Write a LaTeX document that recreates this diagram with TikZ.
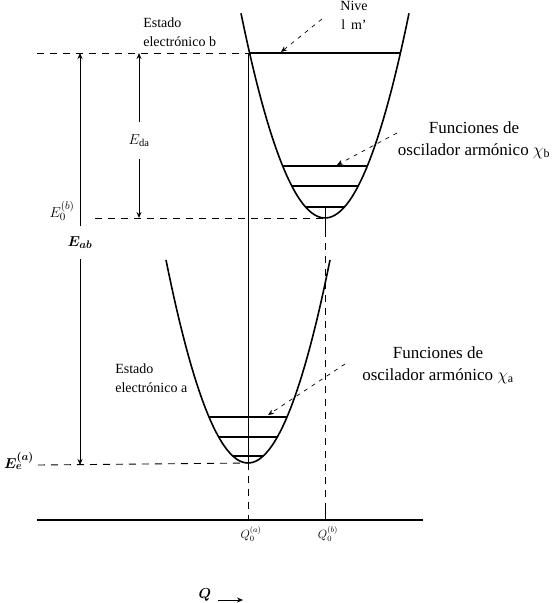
\documentclass[tikz,border=0pt]{standalone}
\usepackage{fontspec}
\setmainfont{Liberation Serif}
\usepackage{bm}
\usetikzlibrary{arrows.meta}
\tikzset{
  level/.style={line width=1.1pt},
  well/.style={line width=1.6pt},
  guide/.style={dashed,dash pattern=on 7pt off 6pt,line width=.9pt},
  leader/.style={dashed,dash pattern=on 4pt off 5pt,->,line width=.7pt},
  statetext/.style={align=left,font=\fontsize{14}{19}\selectfont,inner sep=0pt},
  functext/.style={align=center,font=\fontsize{17}{22}\selectfont,inner sep=0pt},
  biglabel/.style={font=\fontsize{15}{17}\selectfont,inner sep=1pt},
  axlabel/.style={font=\fontsize{12}{14}\selectfont,inner sep=1pt},
}
\begin{document}
\begin{tikzpicture}[x=1pt,y=-1pt,>={Stealth[length=6pt,width=5pt]},line width=.6pt]
  \useasboundingbox (0,0) rectangle (557,603);
  % minima of the two wells
  \coordinate (bmin) at (325,218);
  \coordinate (amin) at (248,463);
  % upper well b
  \draw[well] plot[domain=-84:84,samples=60] ({325+\x},{218-0.029*\x*\x});
  \foreach \d in {165,52,32,11}
    \draw[level] ({325-sqrt(\d/0.029)},{218-\d}) -- ({325+sqrt(\d/0.029)},{218-\d});
  % lower well a
  \draw[well] plot[domain=-82:82,samples=60] ({248+\x},{463-0.0302*\x*\x});
  \foreach \d in {46,26,7}
    \draw[level] ({248-sqrt(\d/0.0302)},{463-\d}) -- ({248+sqrt(\d/0.0302)},{463-\d});
  % energy levels
  \coordinate (tl) at (37,53);
  \coordinate (tr) at (249,53);
  \coordinate (ml) at (95,218);
  \coordinate (al) at (38,465);
  \draw[guide] (tl) -- (tr);
  \draw[guide] (ml) -- (bmin);
  \draw[guide] (al) -- (amin);
  % vertical guides
  \draw (248,53) -- (amin);
  \draw[guide] (amin) -- (248,520);
  \draw (325,207) -- (325,230);
  \draw[guide] (325,230) -- (325,505);
  \draw (325,505) -- (325,520);
  % axis
  \coordinate (ax0) at (37,520);
  \coordinate (ax1) at (423,520);
  \draw[line width=1.1pt] (ax0) -- (ax1);
  % energy gaps
  \coordinate (abt) at (80,53);
  \coordinate (abb) at (80,465);
  \coordinate (dat) at (139,53);
  \coordinate (dab) at (139,218);
  \draw[<->] (abt) -- node[biglabel,pos=.46,fill=white,inner ysep=10pt] (Eab) {$\bm{E_{ab}}$} (abb);
  \draw[<->,line width=1pt] (dat) -- node[biglabel,pos=.53,fill=white,inner ysep=12pt] (Eda) {$E_{\mathrm{da}}$} (dab);
  % labels
  \node[biglabel] (E0b) at (62,211) {$E_0^{(b)}$};
  \node[biglabel,inner sep=0pt] (Eea) at (19,461) {$\bm{E_e^{(a)}}$};
  \node[axlabel] (Q0a) at (251,534) {$Q_0^{(a)}$};
  \node[axlabel] (Q0b) at (328,534) {$Q_0^{(b)}$};
  \node[biglabel] (Q) at (205,595) {$\bm{Q}$};
  \coordinate (qa) at (218,600);
  \coordinate (qb) at (243,600);
  \draw[->] (qa) -- (qb);
  % state names
  \node[statetext,anchor=base west] (stb) at (143,46) {Estado\\electrónico b};
  \node[statetext,anchor=base west] (sta) at (115,392) {Estado\\electrónico a};
  \node[statetext,align=center,anchor=base] (niv) at (354,29) {Nive\\l\, m'};
  % oscillator functions
  \node[functext] (fb) at (474,140) {Funciones de\\oscilador armónico $\chi_{\mathrm b}$};
  \node[functext] (fa) at (438,365) {Funciones de\\oscilador armónico $\chi_{\mathrm a}$};
  % leaders
  \coordinate (nv0) at (322,19);
  \coordinate (nv1) at (281,52);
  \coordinate (xb0) at (397,133);
  \coordinate (xb1) at (337,165);
  \coordinate (xa0) at (345,364);
  \coordinate (xa1) at (268,415);
  \draw[leader] (nv0) -- (nv1);
  \draw[leader] (xb0) -- (xb1);
  \draw[leader] (xa0) -- (xa1);
\end{tikzpicture}
\end{document}
